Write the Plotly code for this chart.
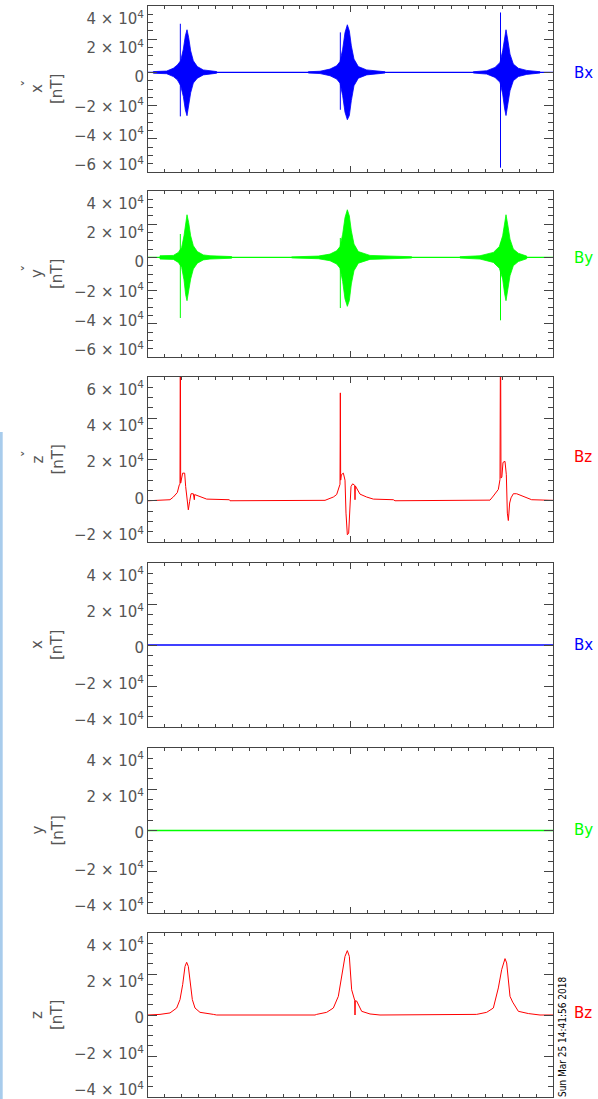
import plotly.graph_objects as go

# ---------------- data (time in hours, 0-24; values in nT) ----------------
# Panel 1: Bx (perturbation) envelope of dense oscillation, bursts separated by None
bx_t = [0.316, 1.106, 1.501, 1.738, 1.936, 2.094, 2.212, 2.311, 2.410, 2.528, 2.686, 2.923, 3.279, 3.674, 4.069, None,
        9.501, 10.193, 10.785, 11.180, 11.378, 11.536, 11.674, 11.812, 11.931, 12.049, 12.207, 12.464, 12.958, 13.551, 14.044, None,
        19.279, 20.069, 20.563, 20.859, 21.017, 21.136, 21.215, 21.314, 21.452, 21.649, 21.946, 22.440, 23.230]
bx_hi = [500, 800, 2500, 4500, 7000, 14000, 22000, 25700, 21000, 13000, 7000, 3500, 1500, 800, 500, None,
         400, 700, 2000, 4000, 6500, 14000, 24000, 28700, 25000, 16000, 8000, 3500, 1500, 800, 400, None,
         400, 1000, 3000, 6000, 13000, 22000, 25700, 20000, 11000, 5000, 2500, 1200, 400]
bx_lo = [-500, -800, -2500, -4500, -8000, -14500, -22500, -26100, -20000, -12300, -6400, -3500, -1500, -800, -500, None,
         -400, -700, -2000, -4000, -6500, -14000, -24000, -28500, -26000, -17000, -8000, -3500, -1500, -800, -400, None,
         -400, -1000, -3000, -6000, -13000, -22000, -26000, -20000, -11000, -5000, -2500, -1200, -400]
bx_spike_t = [1.916, 11.398, 20.889]
bx_spike_hi = [29300, 24100, 36100]
bx_spike_lo = [-26500, -22500, -57400]

# Panel 2: By (perturbation) envelope
by_t = [0.711, 1.501, 1.798, 1.995, 2.133, 2.232, 2.311, 2.410, 2.528, 2.686, 2.923, 3.279, 3.674, 4.958, None,
        8.514, 10.094, 10.785, 11.180, 11.378, 11.536, 11.674, 11.812, 11.931, 12.049, 12.207, 12.464, 13.156, 14.143, 15.625, None,
        18.489, 19.674, 20.464, 20.820, 21.017, 21.136, 21.215, 21.314, 21.452, 21.649, 21.946, 22.440]
by_hi = [1000, 1200, 3000, 6000, 13000, 22000, 25700, 21000, 13000, 7000, 3500, 1500, 1000, 500, None,
         300, 800, 2000, 4000, 6500, 14000, 24000, 28700, 25000, 16000, 8000, 3500, 1200, 800, 400, None,
         400, 1000, 3000, 6500, 13000, 22000, 25700, 20000, 11000, 5000, 2500, 800]
by_lo = [-1000, -1200, -3000, -6000, -13500, -22500, -26100, -21000, -13000, -7000, -3500, -1500, -1000, -500, None,
         -300, -800, -2000, -4000, -6500, -14500, -25000, -29500, -26000, -16000, -8000, -3500, -1200, -800, -400, None,
         -400, -1000, -3000, -6500, -13000, -22000, -26100, -20000, -11000, -5000, -2500, -800]
by_spike_t = [1.916, 11.398, 20.889]
by_spike_hi = [14100, 11700, 8700]
by_spike_lo = [-36500, -30500, -37900]

# Panel 3: Bz (perturbation)
bz1_t = [0.0, 1.304, 1.501, 1.738, 1.857, 1.896, 1.916, 1.936, 2.054, 2.173, 2.232, 2.331, 2.390, 2.469,
         2.548, 2.686, 2.746, 2.765, 2.983, 3.477, 4.820, 4.859,
         10.489, 10.588, 10.983, 11.180, 11.319, 11.378, 11.398, 11.417, 11.457, 11.575, 11.674, 11.733,
         11.812, 11.891, 11.970, 12.030, 12.128, 12.247, 12.267, 12.286, 12.563, 12.958, 13.353, 14.538, 14.637,
         20.267, 20.464, 20.760, 20.859, 20.889, 20.919, 20.968, 21.037, 21.156, 21.235, 21.294, 21.353,
         21.432, 21.511, 21.649, 21.847, 22.242, 22.736, 24.0]
bz1_v = [0, 500, 1800, 4000, 7800, 8000, 90000, 8600, 13400, 13400, 6900, -2800, -4400, -300,
         3400, 3400, 500, 3000, 2400, 800, 500, 0,
         200, 500, 1800, 3000, 6000, 8000, 52300, 10000, 12600, 13400, 10000, -6000,
         -16500, -15700, -6000, 6900, 8200, 7500, 500, 7200, 3200, 1800, 800, 500, 0,
         300, 2300, 5500, 10400, 90000, 11000, 11400, 18600, 19100, 12600, -6000, -9600,
         -1100, 1400, 3400, 3400, 2100, 500, 200]

# Panels 4, 5: Bx, By (flat)
bx2_t = [0.0, 24.0]
bx2_v = [0, 0]
by2_t = [0.0, 24.0]
by2_v = [0, 0]

# Panel 6: Bz
bz2_t = [0.0, 0.711, 1.304, 1.699, 1.896, 2.054, 2.193, 2.291, 2.390, 2.489, 2.627, 2.785, 3.081, 3.872, 4.069,
         9.896, 9.995, 10.588, 10.983, 11.279, 11.477, 11.674, 11.812, 11.931, 12.069, 12.247, 12.267, 12.286,
         12.365, 12.662, 13.156, 13.748,
         19.477, 20.069, 20.464, 20.760, 20.958, 21.156, 21.254, 21.452, 21.610, 21.946, 22.538, 23.230, 24.0]
bz2_v = [0, 300, 1000, 3400, 7500, 14800, 23700, 25700, 23700, 16400, 7500, 3400, 1300, 300, 0,
         0, 300, 1300, 3400, 9100, 18000, 28600, 31400, 28600, 12300, 7200, 0, 7000,
         6800, 1800, 500, 0,
         300, 1300, 3400, 13200, 22100, 27500, 25400, 9100, 6300, 1800, 700, 0, 0]

# axis ticks / labels
yt_a = [40000, 20000, 0, -20000, -40000, -60000]
yl_a = ["4×10<sup>4</sup>", "2×10<sup>4</sup>", "0", "−2×10<sup>4</sup>", "−4×10<sup>4</sup>", "−6×10<sup>4</sup>"]
yt_b = [60000, 40000, 20000, 0, -20000]
yl_b = ["6×10<sup>4</sup>", "4×10<sup>4</sup>", "2×10<sup>4</sup>", "0", "−2×10<sup>4</sup>"]
yt_c = [40000, 20000, 0, -20000, -40000]
yl_c = ["4×10<sup>4</sup>", "2×10<sup>4</sup>", "0", "−2×10<sup>4</sup>", "−4×10<sup>4</sup>"]

comp_labels = ["Bx", "By", "Bz", "Bx", "By", "Bz"]
axis_letters = ["x", "y", "z", "x", "y", "z"]
timestamp = "Sun Mar 25 14:41:56 2018"

BLUE = "rgb(0,0,255)"
GREEN = "rgb(0,255,0)"
RED = "rgb(255,0,0)"
colors = [BLUE, GREEN, RED, BLUE, GREEN, RED]

# ---------------- layout geometry (pixels) ----------------
W, H = 598, 1099
L, R = 148, 553
panels_px = [(6, 172), (191, 357), (377, 542), (563, 727), (748, 913), (933, 1097)]
label_y_px = [73, 258, 457, 645, 830, 1013]
LABEL_SQUEEZE = 0.88  # tick labels sit slightly closer to the panel centre than the ticks
LABEL_DROP = 3        # and a few pixels lower


def py2paper(py):
    return 1 - py / H


def px2paper(px):
    return (px - L) / (R - L)


def spaced(s):
    return s.replace("×", " × ")


fig = go.Figure()


def add_envelope(t, hi, lo, color, ax):
    # split on None into bursts and draw each filled envelope
    segs, cur = [], []
    for a, b, c in zip(t, hi, lo):
        if a is None:
            segs.append(cur)
            cur = []
        else:
            cur.append((a, b, c))
    if cur:
        segs.append(cur)
    xs, ys = [], []
    for seg in segs:
        ts = [s[0] for s in seg]
        hs = [s[1] for s in seg]
        ls = [s[2] for s in seg]
        xs += ts + ts[::-1] + [ts[0], None]
        ys += hs + ls[::-1] + [hs[0], None]
    fig.add_trace(go.Scatter(x=xs, y=ys, mode="lines", fill="toself", fillcolor=color,
                             line=dict(color=color, width=0.8), xaxis="x" + ax, yaxis="y" + ax,
                             showlegend=False, hoverinfo="skip"))


def add_spikes(t, hi, lo, color, ax):
    xs, ys = [], []
    for a, b, c in zip(t, hi, lo):
        xs += [a, a, None]
        ys += [b, c, None]
    fig.add_trace(go.Scatter(x=xs, y=ys, mode="lines", line=dict(color=color, width=1),
                             xaxis="x" + ax, yaxis="y" + ax, showlegend=False, hoverinfo="skip"))


def add_line(t, v, color, ax, width=1):
    fig.add_trace(go.Scatter(x=t, y=v, mode="lines", line=dict(color=color, width=width),
                             xaxis="x" + ax, yaxis="y" + ax, showlegend=False, hoverinfo="skip"))


# panel 1
add_line(bx2_t, bx2_v, BLUE, "", 1.3)
add_envelope(bx_t, bx_hi, bx_lo, BLUE, "")
add_spikes(bx_spike_t, bx_spike_hi, bx_spike_lo, BLUE, "")
# panel 2
add_line(by2_t, by2_v, GREEN, "2", 1.3)
add_envelope(by_t, by_hi, by_lo, GREEN, "2")
add_spikes(by_spike_t, by_spike_hi, by_spike_lo, GREEN, "2")
# panel 3
add_line(bz1_t, bz1_v, RED, "3")
# panel 4-6
add_line(bx2_t, bx2_v, BLUE, "4", 1.5)
add_line(by2_t, by2_v, GREEN, "5", 1.5)
add_line(bz2_t, bz2_v, RED, "6")

AX = "#444444"
TXT = "#555555"
ranges = [(-60000, 40000), (-60000, 40000), (-20000, 60000), (-40000, 40000), (-40000, 40000), (-40000, 40000)]
ticks = [(yt_a, yl_a), (yt_a, yl_a), (yt_b, yl_b), (yt_c, yl_c), (yt_c, yl_c), (yt_c, yl_c)]

layout = dict(width=W, height=H, margin=dict(l=L, r=W - R, t=0, b=0, pad=0, autoexpand=False),
              plot_bgcolor="white", paper_bgcolor="white", showlegend=False,
              font=dict(family="DejaVu Sans", size=13, color=TXT))

annotations = []
shapes = []
for i in range(6):
    sfx = "" if i == 0 else str(i + 1)
    top, bot = panels_px[i]
    dom = [py2paper(bot), py2paper(top)]
    lo, hi = ranges[i]
    layout["xaxis" + sfx] = dict(domain=[0, 1], anchor="y" + sfx, range=[0, 24], automargin=False,
                                 showticklabels=False, showgrid=False, zeroline=False,
                                 showline=True, linecolor=AX, linewidth=1, mirror="ticks",
                                 ticks="inside", tickvals=[0, 12, 24], ticklen=6, tickcolor=AX,
                                 minor=dict(dtick=1, ticks="inside", ticklen=3, tickcolor=AX, showgrid=False))
    tv, tl = ticks[i]
    layout["yaxis" + sfx] = dict(domain=dom, anchor="x" + sfx, range=[lo, hi], automargin=False,
                                 showgrid=False, zeroline=False, showticklabels=False,
                                 showline=True, linecolor=AX, linewidth=1, mirror="ticks",
                                 ticks="inside", tickvals=tv, ticklen=9, tickcolor=AX,
                                 minor=dict(dtick=5000, ticks="inside", ticklen=5, tickcolor=AX, showgrid=False))
    # label-only axis overlaid on the same panel (labels squeezed toward the centre)
    span_px = bot - top
    mid = (lo + hi) / 2 + LABEL_DROP * (hi - lo) / span_px
    half = (hi - lo) / 2 / LABEL_SQUEEZE
    lsfx = str(i + 7)
    layout["yaxis" + lsfx] = dict(overlaying="y" + sfx, anchor="x" + sfx, side="left",
                                  range=[mid - half, mid + half], automargin=False,
                                  showgrid=False, zeroline=False, showline=False, ticks="",
                                  tickvals=tv, ticktext=[spaced(s) for s in tl],
                                  ticklabeloverflow="allow", ticklabelstandoff=3,
                                  tickfont=dict(family="DejaVu Sans", size=15, color=TXT))
    fig.add_trace(go.Scatter(x=[None], y=[None], xaxis="x" + sfx, yaxis="y" + lsfx,
                             showlegend=False, hoverinfo="skip", mode="lines"))
    cy = py2paper((top + bot) / 2)
    # y axis title: component letter and unit
    annotations.append(dict(x=px2paper(37), y=cy, xref="paper", yref="paper", text=axis_letters[i],
                            textangle=-90, showarrow=False, xanchor="center", yanchor="middle",
                            font=dict(family="DejaVu Sans", size=15, color=TXT)))
    annotations.append(dict(x=px2paper(57), y=cy, xref="paper", yref="paper", text="[nT]",
                            textangle=-90, showarrow=False, xanchor="center", yanchor="middle",
                            font=dict(family="DejaVu Sans", size=15, color=TXT)))
    if i < 3:
        annotations.append(dict(x=px2paper(29), y=py2paper((top + bot) / 2 - 6), xref="paper", yref="paper",
                                text="ˇ", textangle=-90, showarrow=False, xanchor="center", yanchor="middle",
                                font=dict(family="DejaVu Sans", size=15, color=TXT)))
    # component label at right
    annotations.append(dict(x=px2paper(572), y=py2paper(label_y_px[i]), xref="paper", yref="paper",
                            text=comp_labels[i], showarrow=False, xanchor="left", yanchor="middle",
                            font=dict(family="DejaVu Sans", size=15, color=colors[i])))

# timestamp
annotations.append(dict(x=px2paper(562), y=py2paper(1037), xref="paper", yref="paper", text=timestamp,
                        textangle=-90, showarrow=False, xanchor="center", yanchor="middle",
                        font=dict(family="DejaVu Sans Condensed", size=10, color="black")))

# light-blue strip along the left edge
shapes.append(dict(type="rect", xref="paper", yref="paper", x0=px2paper(0), x1=px2paper(2.7),
                   y0=py2paper(1099), y1=py2paper(432), fillcolor="rgb(168,204,236)", line=dict(width=0),
                   layer="above"))

layout["annotations"] = annotations
layout["shapes"] = shapes
fig.update_layout(**layout)
fig.write_html("out.html", config={"displayModeBar": False},
               post_script="document.body.style.margin='0';document.body.style.padding='0';"
                           "document.body.style.overflow='hidden';")
